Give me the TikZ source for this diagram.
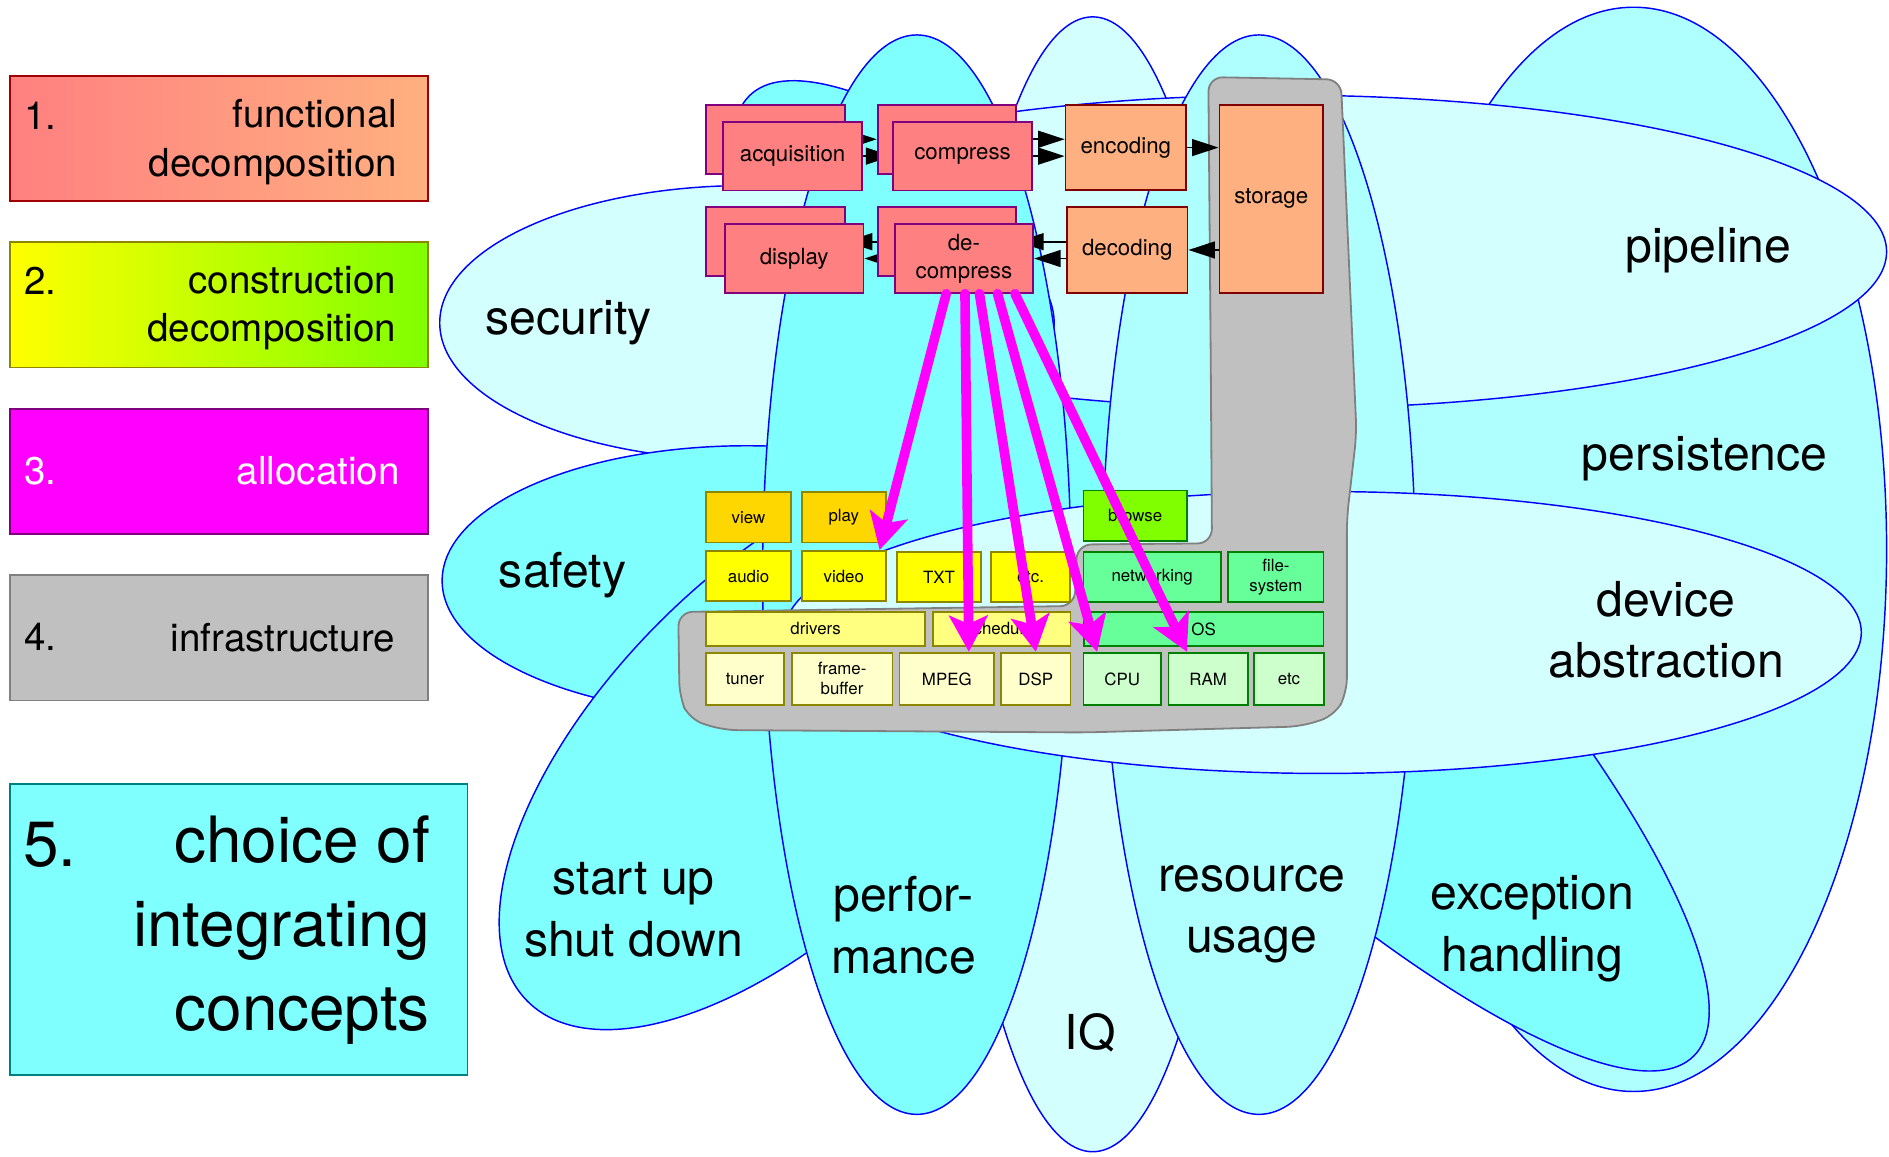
\documentclass[tikz,border=0pt]{standalone}
\usepackage{fontspec}
\setmainfont{TeX Gyre Heros}
\usepackage{tikz}
\usetikzlibrary{shapes,arrows.meta}
\definecolor{conlight}{HTML}{D4FFFF}
\definecolor{conmid}{HTML}{B0FFFF}
\definecolor{concyan}{HTML}{80FFFF}
\definecolor{funcred}{HTML}{FF8080}
\definecolor{funcorange}{HTML}{FFB080}
\definecolor{darkred}{HTML}{800000}
\definecolor{legred}{HTML}{A00000}
\definecolor{guigold}{HTML}{FFD700}
\definecolor{drvyellow}{HTML}{FFFF80}
\definecolor{hwyellow}{HTML}{FFFFCC}
\definecolor{browsegreen}{HTML}{80FF00}
\definecolor{osgreen}{HTML}{66FF99}
\definecolor{hwgreen}{HTML}{CCFFCC}
\definecolor{darkgreen}{HTML}{008000}
\definecolor{infragray}{HTML}{C0C0C0}
\definecolor{legteal}{HTML}{008080}
\definecolor{allocmag}{HTML}{FF00FF}
\definecolor{allocdark}{HTML}{800080}
\definecolor{legyellow}{HTML}{FFFF00}
\pgfdeclarelayer{concepts}
\pgfdeclarelayer{links}
\pgfsetlayers{concepts,links,main}
\tikzstyle{concept} = [draw=blue, line width=1.2pt]
\tikzstyle{conlabel} = [inner sep=0pt, align=center, font=\fontsize{40}{51}\selectfont]
\tikzstyle{legend} = [draw, line width=1.5pt, minimum width=347pt, minimum height=104pt]
\tikzstyle{legtext} = [inner sep=0pt, align=right, font=\fontsize{32}{40}\selectfont]
\tikzstyle{legbig} = [inner sep=0pt, align=right, font=\fontsize{53}{70}\selectfont]
\tikzstyle{func} = [draw=allocdark, fill=funcred, line width=1.5pt, inner sep=0pt, minimum width=115pt, minimum height=57pt, align=center, font=\fontsize{18.5}{23}\selectfont]
\tikzstyle{store} = [draw=darkred, fill=funcorange, line width=1.5pt, inner sep=0pt, minimum width=100pt, minimum height=71pt, align=center, font=\fontsize{18.5}{23}\selectfont]
\tikzstyle{smallbox} = [line width=1.5pt, inner sep=0pt, align=center, font=\fontsize{14}{16.5}\selectfont]
\tikzstyle{gui} = [smallbox, draw=olive, fill=guigold, minimum width=70pt, minimum height=42pt]
\tikzstyle{app} = [smallbox, draw=olive, fill=legyellow, minimum width=70pt, minimum height=42pt]
\tikzstyle{drv} = [smallbox, draw=olive, fill=drvyellow, minimum height=28.5pt]
\tikzstyle{hw} = [smallbox, draw=olive, fill=hwyellow, minimum height=43.5pt]
\tikzstyle{ospart} = [smallbox, draw=darkgreen, fill=osgreen, minimum height=42pt]
\tikzstyle{hwg} = [smallbox, draw=darkgreen, fill=hwgreen, minimum height=43.5pt]
\tikzstyle{infra} = [draw=gray, fill=infragray, line width=1.5pt]
\tikzstyle{flow} = [draw, line width=1.5pt, -{Triangle[length=22pt,width=14pt]}]
\tikzstyle{alloc} = [draw=allocmag, line width=8pt, line cap=round, -{Stealth[length=30pt,width=32pt,inset=7pt]}]

\begin{document}
\begin{tikzpicture}[x=1pt, y=-1pt]
    \useasboundingbox (0,0) rectangle (1568,960);
    % Define the concepts
    \begin{pgfonlayer}{concepts}
    \fill[white] (0,0) rectangle (1568,960);
    \draw[concept, fill=conmid] (1356,456) ellipse (210 and 450);
    \draw[concept, fill=conlight] (907,485) ellipse (118 and 471);
    \draw[concept, fill=concyan, rotate around={-45.5:(1014,478)}] (1014,478) ellipse (559 and 142);
    \draw[concept, fill=conlight] (1066,209) ellipse (500 and 130);
    \draw[concept, fill=conlight] (620,268) ellipse (255 and 114);
    \draw[concept, fill=concyan] (620,482) ellipse (253 and 112);
    \draw[concept, fill=concyan, rotate around={45:(650,619)}] (650,619) ellipse (300 and 145);
    \draw[concept, fill=concyan] (761,477) ellipse (128 and 448);
    \draw[concept, fill=conmid] (1045,477) ellipse (130 and 448);
    \draw[concept, fill=conlight] (1098,525) ellipse (447 and 117);
    \draw[infra, rounded corners=12pt] (1005,300) -- (1003,64) -- (1113,66) -- (1126,360)
        -- (1118,430) -- (1118,575) -- (1108,594) -- (1080,603) -- (900,608) -- (600,606)
        -- (572,597) -- (564,578) -- (563,508) -- (892,503) -- (894,452) -- (1006,451) -- cycle;
    \end{pgfonlayer}
    \node[conlabel] (security) at (472,268) {security};
    \node[conlabel] (safety) at (467,477) {safety};
    \node[conlabel] (startup) at (526,755) {start up\\shut down};
    \node[conlabel] (perf) at (750,768) {perfor-\\mance};
    \node[conlabel] (iq) at (905,857) {IQ};
    \node[conlabel] (resource) at (1039,759) {resource\\usage};
    \node[conlabel] (exception) at (1272,771) {exception\\handling};
    \node[conlabel] (device) at (1383,523) {device\\abstraction};
    \node[conlabel] (persist) at (1415,381) {persistence};
    \node[conlabel] (pipeline) at (1418,208) {pipeline};
    % Define the legend
    \node[legend, draw=legred, left color=funcred, right color=funcorange] (leg1) at (181.5,115) {};
    \node[legend, draw=olive, left color=legyellow, right color=browsegreen] (leg2) at (181.5,253) {};
    \node[legend, draw=allocdark, fill=allocmag] (leg3) at (181.5,391.5) {};
    \node[legend, draw=gray, fill=infragray] (leg4) at (181.5,529.5) {};
    \node[legend, draw=legteal, fill=concyan, minimum width=380pt, minimum height=241pt] (leg5) at (198,771.5) {};
    \node[legtext, anchor=west] (num1) at (20,96) {1.};
    \node[legtext, anchor=east] (txt1) at (330,118) {functional\\decomposition};
    \node[legtext, anchor=west] (num2) at (20,233) {2.};
    \node[legtext, anchor=east] (txt2) at (329,256) {construction\\decomposition};
    \node[legtext, anchor=west, text=white] (num3) at (20,391) {3.};
    \node[legtext, anchor=east, text=white] (txt3) at (332,391) {allocation};
    \node[legtext, anchor=west] (num4) at (20,529) {4.};
    \node[legtext, anchor=east] (txt4) at (328,529) {infrastructure};
    \node[legbig, anchor=west] (num5) at (19,701) {5.};
    \node[legbig, anchor=east] (txt5) at (357,772) {choice of\\integrating\\concepts};
    % Define the pipeline nodes
    \node[func] (acqB) at (643.8,115.6) {};
    \node[func] (cmpB) at (786,115.6) {};
    \node[func] (dspB) at (643.8,200.6) {};
    \node[func] (dcmB) at (786,200.6) {};
    \node[func] (acqF) at (657.9,129.6) {acquisition};
    \node[func] (cmpF) at (799,129.6) {compress};
    \node[func] (dspF) at (659.2,214.6) {display};
    \node[func] (dcmF) at (800.1,214.6) {de-\\compress};
    \node[store] (enc) at (934.5,122.5) {encoding};
    \node[store] (dec) at (935.7,207.5) {decoding};
    \node[store, minimum width=86pt, minimum height=156pt] (stor) at (1055.2,165) {storage};
    % Define the construction nodes
    \node[gui] (view) at (621.3,429.3) {view};
    \node[gui] (play) at (700.4,429.3) {play};
    \node[ospart, fill=browsegreen, minimum width=86pt] (browse) at (942.3,428.2) {browse};
    \node[app] (audio) at (621.3,478.2) {audio};
    \node[app] (video) at (700.4,478.2) {video};
    \node[app] (txt) at (779.4,479) {TXT};
    \node[app, minimum width=66pt] (etcy) at (855.4,479) {etc.};
    \node[ospart, minimum width=114pt] (netw) at (956.4,479) {networking};
    \node[ospart, minimum width=79pt] (fsys) at (1059.1,479) {file-\\system};
    \node[drv, minimum width=182pt] (drivers) at (677,522) {drivers};
    \node[drv, minimum width=114pt] (sched) at (831.5,522) {scheduler};
    \node[ospart, minimum width=199pt, minimum height=28.5pt] (os) at (999.1,522) {OS};
    \node[hw, minimum width=64.6pt] (tuner) at (618.4,563.5) {tuner};
    \node[hw, minimum width=83.7pt] (fbuf) at (699,563.5) {frame-\\buffer};
    \node[hw, minimum width=78.5pt] (mpeg) at (785.9,563.5) {MPEG};
    \node[hw, minimum width=57.7pt] (dsp) at (859.8,563.5) {DSP};
    \node[hwg, minimum width=64.2pt] (cpu) at (931.5,563.5) {CPU};
    \node[hwg, minimum width=65.6pt] (ram) at (1002.8,563.5) {RAM};
    \node[hwg, minimum width=57.8pt] (etcg) at (1069.9,563.5) {etc};
    % Connect the nodes
    \begin{pgfonlayer}{links}
    \draw[flow] (acqB) -- (cmpB);
    \draw[flow] (acqF) -- (cmpF);
    \draw[flow] (cmpB) -- (cmpB -| enc.west);
    \draw[flow] (cmpF) -- (cmpF -| enc.west);
    \draw[flow] (enc) -- (enc -| stor.west);
    \draw[flow] (stor.west |- dec) -- (dec);
    \draw[flow] (dec.west |- dcmB) -- (dcmB);
    \draw[flow] (dec.west |- dcmF) -- (dcmF);
    \draw[flow] (dcmB) -- (dspB);
    \draw[flow] (dcmF) -- (dspF);
    \end{pgfonlayer}
    % Allocation
    \draw[alloc] ([xshift=-14.7pt]dcmF.south) -- ([xshift=-6pt]video.north east);
    \draw[alloc] ([xshift=0.9pt]dcmF.south) -- ([xshift=18.3pt]mpeg.north);
    \draw[alloc] ([xshift=12.9pt]dcmF.south) -- (dsp.north);
    \draw[alloc] ([xshift=27.9pt]dcmF.south) -- ([xshift=12pt]cpu.north west);
    \draw[alloc] ([xshift=42.4pt]dcmF.south) -- ([xshift=-17.6pt]ram.north);
\end{tikzpicture}
\end{document}
